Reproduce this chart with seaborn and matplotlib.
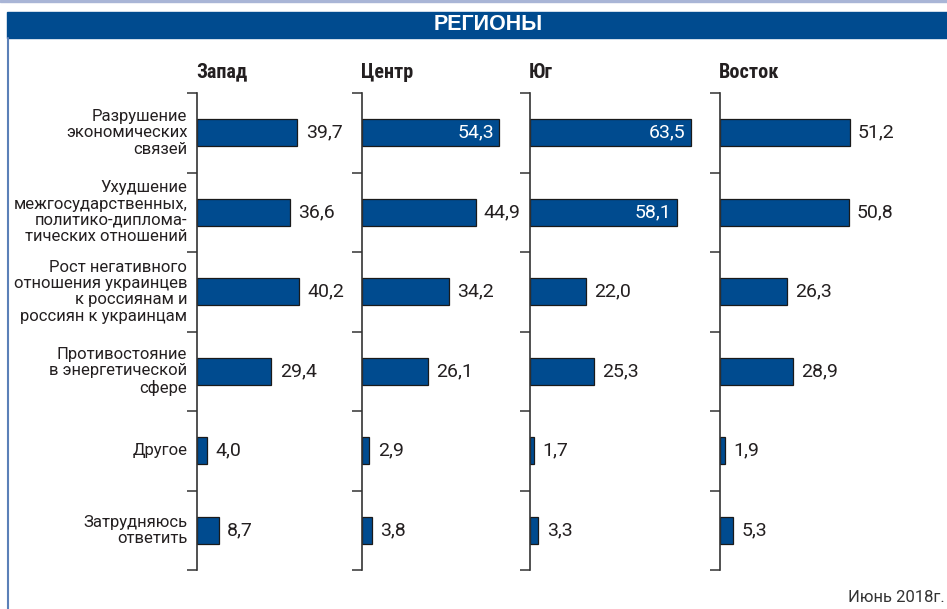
import matplotlib
matplotlib.use("Agg")
import matplotlib.pyplot as plt
import seaborn as sns
import pandas as pd
from matplotlib import font_manager
from matplotlib.patches import Rectangle
from matplotlib.lines import Line2D

categories = [
    "Разрушение\nэкономических\nсвязей",
    "Ухудшение\nмежгосударственных,\nполитико-диплома-\nтических отношений",
    "Рост негативного\nотношения украинцев\nк россиянам и\nроссиян к украинцам",
    "Противостояние\nв энергетической\nсфере",
    "Другое",
    "Затрудняюсь\nответить",
]
regions = ["Запад", "Центр", "Юг", "Восток"]
zapad = [39.7, 36.6, 40.2, 29.4, 4.0, 8.7]
centr = [54.3, 44.9, 34.2, 26.1, 2.9, 3.8]
yug = [63.5, 58.1, 22.0, 25.3, 1.7, 3.3]
vostok = [51.2, 50.8, 26.3, 28.9, 1.9, 5.3]
series = [zapad, centr, yug, vostok]
title = "РЕГИОНЫ"
note = "Июнь 2018г."

sns.set_theme(style="white")
names = {f.name for f in font_manager.fontManager.ttflist}

def pick(cands):
    for c in cands:
        if c in names:
            return c
    return "DejaVu Sans"

body = pick(["Roboto", "Liberation Sans", "DejaVu Sans"])
cond = pick(["Roboto Condensed", "PT Sans Narrow", "Fira Sans Condensed", "Roboto"])
wide = pick(["Liberation Sans", "Arimo", "Roboto"])
plt.rcParams["font.family"] = [body, "DejaVu Sans"]

BLUE = "#004b8f"
TXT = "#231f20"
W, H = 947, 609
fig = plt.figure(figsize=(W / 100, H / 100), dpi=100)

def fx(px):
    return px / W

def fy(py):
    return 1 - py / H

# frame decorations
fig.patches.append(Rectangle((0, fy(2)), 1, 2 / H, transform=fig.transFigure,
                             color="#a9b5d6", zorder=0))
fig.patches.append(Rectangle((fx(7), fy(38)), 1 - fx(7), 26 / H, transform=fig.transFigure,
                             color=BLUE, zorder=0))
fig.lines.append(Line2D([fx(7.5), fx(7.5)], [0, fy(38)], transform=fig.transFigure,
                        color="#5b80b8", lw=1.5))
fig.text(fx(488), fy(25), title, color="white", fontsize=15.5, fontweight="bold",
         ha="center", va="center", family=[wide, "DejaVu Sans"])
fig.text(fx(945), fy(597), note, color="#333333", fontsize=12, ha="right", va="center")

lefts = [197, 362, 530, 720]
top, bottom = 93, 570
xmax = 65
width_px = xmax * 2.53

for i, (reg, vals, lp) in enumerate(zip(regions, series, lefts)):
    ax = fig.add_axes([fx(lp), fy(bottom), width_px / W, (bottom - top) / H])
    df = pd.DataFrame({"cat": categories, "val": vals})
    sns.barplot(data=df, y="cat", x="val", orient="h", color=BLUE, saturation=1,
                width=0.34, edgecolor="#1a1a1a", linewidth=0.9, ax=ax)
    ax.set_xlim(0, xmax)
    ax.set_ylim(len(categories) - 0.5, -0.5)
    ax.set_xlabel("")
    ax.set_ylabel("")
    ax.set_xticks([])
    ax.set_yticks([k - 0.5 for k in range(len(categories) + 1)])
    ax.set_yticklabels([])
    ax.tick_params(axis="y", direction="out", length=7, width=1.1, color="#333333", left=True)
    for s in ["top", "right", "bottom"]:
        ax.spines[s].set_visible(False)
    ax.spines["left"].set_color("#333333")
    ax.spines["left"].set_linewidth(1.2)
    ax.patch.set_alpha(0)
    fig.text(fx(lp - 1), fy(72), reg, fontsize=14.5, fontweight="bold", color=TXT,
             ha="left", va="center", family=[cond, "DejaVu Sans"])
    for k, v in enumerate(vals):
        lab = f"{v:.1f}".replace(".", ",")
        if v > 52:
            ax.annotate(lab, (v, k), xytext=(-4, 0), textcoords="offset points",
                        ha="right", va="center", color="white", fontsize=14)
        else:
            ax.annotate(lab, (v, k), xytext=(6, 0), textcoords="offset points",
                        ha="left", va="center", color=TXT, fontsize=14)
    if i == 0:
        for k, c in enumerate(categories):
            ax.annotate(c, (0, k), xytext=(-7, 0), textcoords="offset points",
                        ha="right", va="center", color=TXT, fontsize=12,
                        linespacing=1.12, annotation_clip=False)

fig.savefig("out.png", dpi=100)
